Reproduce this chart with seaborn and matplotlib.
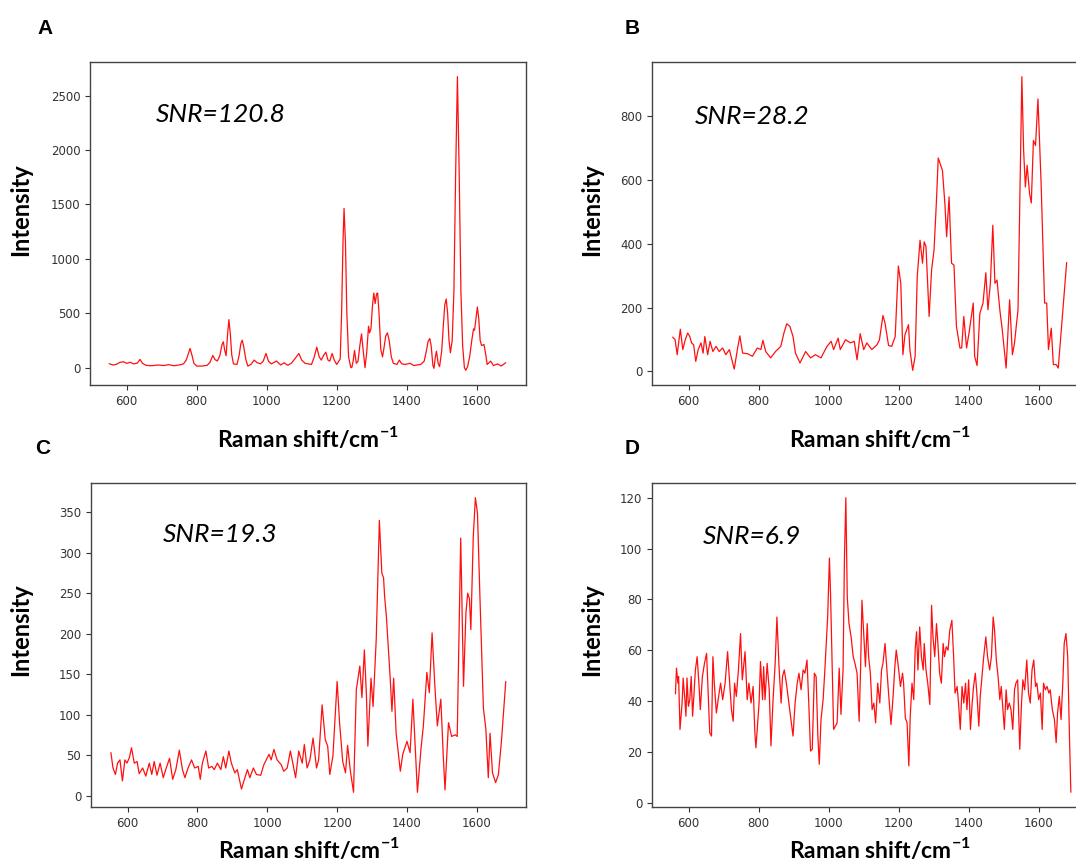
import matplotlib
matplotlib.use("Agg")
import matplotlib.pyplot as plt
import pandas as pd
import seaborn as sns

# spectrum A (SNR=120.8)
A_shift = [550, 560, 570, 580, 590, 600, 610, 620, 630, 638, 645, 655, 670, 690, 705, 720, 735, 750, 762, 770,
           776, 781, 786, 792, 800, 815, 830, 838, 846, 852, 859, 866, 872, 876, 880, 884, 888, 892, 896, 900,
           905, 915, 921, 926, 930, 934, 940, 946, 955, 964, 972, 982, 990, 998, 1005, 1013, 1028, 1040, 1050, 1060,
           1070, 1080, 1092, 1100, 1110, 1128, 1136, 1143, 1150, 1156, 1162, 1169, 1175, 1180, 1187, 1193, 1200, 1210, 1214, 1218,
           1221, 1225, 1229, 1234, 1240, 1243, 1247, 1251, 1256, 1261, 1266, 1271, 1276, 1281, 1286, 1291, 1294, 1298, 1302, 1306,
           1310, 1314, 1317, 1321, 1326, 1331, 1336, 1340, 1345, 1350, 1356, 1362, 1372, 1379, 1386, 1395, 1410, 1420, 1440, 1450,
           1456, 1461, 1466, 1470, 1475, 1478, 1482, 1485, 1490, 1494, 1500, 1505, 1509, 1513, 1517, 1521, 1525, 1530, 1535, 1540,
           1545, 1550, 1555, 1560, 1565, 1569, 1574, 1580, 1586, 1591, 1594, 1598, 1602, 1606, 1610, 1614, 1621, 1626, 1630, 1640,
           1648, 1660, 1670, 1683]
A_int = [37, 25, 30, 48, 55, 40, 50, 35, 42, 76, 40, 22, 18, 25, 20, 28, 18, 25, 35, 70,
         130, 177, 120, 40, 15, 15, 22, 50, 113, 75, 62, 110, 210, 238, 160, 110, 300, 442, 310, 120,
         35, 30, 110, 220, 253, 200, 80, 15, 30, 70, 48, 35, 60, 131, 60, 35, 61, 25, 45, 22,
         40, 80, 131, 70, 40, 30, 100, 189, 100, 70, 110, 143, 70, 60, 131, 70, 30, 80, 500, 1150,
         1464, 1150, 500, 100, 5, 0, 60, 159, 40, 60, 200, 311, 150, 0, 150, 381, 320, 360, 560, 686,
         590, 680, 686, 500, 168, 100, 200, 290, 320, 250, 100, 40, 30, 70, 35, 30, 40, 20, 30, 60,
         150, 240, 268, 200, 20, -6, 100, 152, 40, 10, 150, 400, 580, 631, 500, 250, 137, 250, 700, 1800,
         2674, 1800, 700, 200, 0, -24, 10, 100, 250, 357, 345, 450, 558, 450, 250, 204, 213, 120, 30, 60,
         20, 35, 15, 46]

# spectrum B (SNR=28.2)
B_shift = [554, 561, 567, 571, 576, 583, 590, 597, 603, 608, 614, 620, 627, 635, 641, 646, 654, 661, 669, 678,
           687, 697, 706, 716, 730, 739, 746, 754, 768, 782, 796, 806, 812, 820, 834, 848, 863, 872, 880, 889,
           898, 905, 918, 934, 948, 962, 978, 995, 1007, 1014, 1027, 1033, 1048, 1062, 1073, 1081, 1090, 1100, 1109, 1123,
           1138, 1145, 1155, 1161, 1171, 1180, 1190, 1199, 1206, 1212, 1218, 1228, 1232, 1240, 1247, 1253, 1261, 1268, 1273, 1278,
           1287, 1294, 1301, 1308, 1313, 1320, 1325, 1332, 1337, 1344, 1351, 1358, 1365, 1375, 1380, 1386, 1394, 1401, 1413, 1417,
           1424, 1432, 1441, 1449, 1455, 1462, 1469, 1475, 1481, 1489, 1496, 1507, 1517, 1525, 1531, 1541, 1552, 1557, 1562, 1567,
           1574, 1579, 1585, 1591, 1598, 1607, 1617, 1623, 1628, 1636, 1642, 1650, 1656, 1664, 1680]
B_int = [107, 99, 52, 89, 132, 68, 99, 120, 109, 89, 83, 31, 68, 89, 57, 109, 52, 94, 62, 78,
         62, 73, 52, 68, 7, 68, 111, 57, 55, 47, 73, 68, 97, 62, 42, 62, 78, 120, 149, 141,
         109, 57, 26, 62, 42, 52, 42, 78, 94, 68, 104, 68, 99, 89, 94, 36, 118, 68, 89, 68,
         83, 99, 175, 151, 81, 78, 109, 330, 276, 52, 115, 146, 68, 3, 47, 297, 411, 339, 406, 391,
         172, 318, 380, 536, 669, 646, 630, 526, 422, 547, 339, 333, 141, 73, 73, 172, 73, 120, 214, 47,
         18, 182, 214, 309, 193, 276, 458, 276, 286, 193, 130, 10, 224, 52, 89, 193, 924, 693, 578, 646,
         557, 528, 724, 708, 854, 589, 214, 214, 68, 135, 21, 21, 10, 120, 341]

# spectrum C (SNR=19.3)
C_shift = [552, 558, 565, 571, 578, 585, 592, 598, 605, 611, 619, 627, 633, 643, 652, 662, 669, 676, 684, 693,
           702, 709, 720, 729, 738, 748, 757, 764, 773, 783, 792, 802, 808, 814, 824, 832, 841, 848, 857, 867,
           874, 881, 890, 897, 907, 914, 926, 933, 943, 950, 960, 969, 981, 990, 1005, 1011, 1019, 1028, 1040, 1047,
           1057, 1066, 1074, 1081, 1090, 1100, 1106, 1114, 1122, 1131, 1141, 1147, 1157, 1166, 1173, 1179, 1188, 1200, 1207, 1216,
           1224, 1230, 1238, 1247, 1255, 1265, 1271, 1278, 1284, 1288, 1297, 1303, 1312, 1321, 1328, 1333, 1336, 1341, 1344, 1352,
           1357, 1362, 1369, 1381, 1388, 1400, 1409, 1417, 1423, 1430, 1440, 1447, 1457, 1464, 1472, 1480, 1487, 1497, 1504, 1509,
           1519, 1528, 1538, 1544, 1554, 1562, 1569, 1574, 1579, 1583, 1590, 1596, 1602, 1609, 1619, 1626, 1633, 1638, 1645, 1654,
           1662, 1671, 1683]
C_int = [53, 34, 26, 40, 44, 18, 44, 40, 47, 59, 40, 42, 27, 34, 24, 40, 26, 42, 25, 40,
         22, 32, 46, 20, 32, 56, 32, 22, 34, 44, 34, 36, 20, 40, 55, 34, 36, 32, 40, 32,
         48, 34, 55, 40, 28, 32, 8, 18, 32, 22, 34, 26, 25, 38, 51, 44, 57, 44, 38, 30,
         34, 55, 38, 22, 55, 40, 63, 34, 44, 71, 34, 44, 112, 69, 61, 26, 49, 141, 90, 42,
         28, 62, 30, 4, 131, 160, 121, 180, 123, 61, 145, 110, 193, 340, 275, 269, 246, 222, 201, 145,
         104, 145, 77, 30, 51, 67, 53, 119, 65, 4, 57, 86, 152, 127, 201, 135, 86, 119, 49, 7,
         90, 73, 75, 73, 318, 135, 226, 250, 243, 205, 320, 368, 349, 246, 108, 82, 22, 77, 28, 16,
         26, 69, 141]

# spectrum D (SNR=6.9)
D_shift = [562, 565, 569, 571, 575, 581, 584, 589, 592, 595, 599, 603, 607, 611, 614, 619, 624, 629, 633, 639,
           645, 651, 656, 660, 665, 669, 673, 679, 684, 691, 697, 704, 711, 717, 722, 727, 731, 736, 742, 748,
           753, 761, 767, 772, 778, 784, 789, 792, 797, 801, 805, 811, 814, 818, 824, 830, 835, 841, 847, 852,
           858, 864, 868, 873, 879, 885, 891, 898, 904, 910, 915, 921, 927, 932, 938, 943, 948, 953, 959, 964,
           969, 973, 978, 984, 989, 993, 997, 1002, 1005, 1010, 1014, 1019, 1024, 1030, 1035, 1041, 1045, 1049, 1053, 1058,
           1064, 1070, 1075, 1081, 1087, 1091, 1095, 1100, 1105, 1110, 1114, 1119, 1124, 1129, 1134, 1140, 1146, 1151, 1155, 1161,
           1167, 1171, 1178, 1184, 1189, 1193, 1199, 1205, 1211, 1214, 1219, 1224, 1229, 1233, 1238, 1243, 1247, 1251, 1255, 1260,
           1265, 1270, 1273, 1278, 1283, 1289, 1294, 1298, 1303, 1308, 1312, 1317, 1322, 1327, 1331, 1336, 1341, 1346, 1352, 1357,
           1361, 1367, 1371, 1376, 1381, 1386, 1391, 1395, 1400, 1405, 1410, 1414, 1419, 1424, 1429, 1433, 1438, 1443, 1449, 1454,
           1460, 1465, 1470, 1474, 1479, 1484, 1489, 1493, 1498, 1502, 1507, 1511, 1516, 1521, 1526, 1531, 1535, 1540, 1546, 1551,
           1555, 1560, 1566, 1571, 1576, 1581, 1586, 1591, 1595, 1600, 1605, 1610, 1614, 1619, 1624, 1629, 1633, 1639, 1645, 1650,
           1654, 1659, 1664, 1669, 1673, 1678, 1683, 1688, 1692]
D_int = [42.9, 53.0, 47.1, 49.7, 28.9, 39.3, 49.1, 40.6, 34.1, 49.1, 38.0, 40.6, 49.7, 34.1, 40.6, 52.3, 57.5, 47.1, 36.7, 49.7,
         54.9, 58.8, 41.9, 27.6, 26.3, 57.5, 47.1, 35.4, 40.6, 47.1, 40.6, 47.1, 59.5, 47.1, 36.7, 32.1, 47.1, 41.9, 52.3, 66.6,
         48.4, 59.5, 40.6, 47.1, 39.3, 45.8, 27.6, 21.7, 31.5, 39.3, 55.6, 40.6, 53.6, 40.6, 54.9, 44.5, 22.4, 40.6, 54.9, 73.1,
         53.6, 39.3, 49.7, 52.3, 47.1, 40.6, 34.1, 26.3, 39.3, 47.1, 51.0, 44.5, 52.3, 51.0, 56.2, 39.3, 20.4, 21.1, 51.0, 49.7,
         26.3, 15.2, 32.8, 40.6, 52.3, 62.7, 73.1, 96.3, 83.6, 52.3, 28.9, 30.2, 31.5, 53.0, 34.8, 52.3, 96.6, 120.0, 81.0, 70.5,
         65.3, 57.5, 54.9, 51.0, 32.1, 52.3, 79.7, 66.6, 53.6, 70.5, 57.5, 51.0, 36.7, 39.3, 31.5, 47.1, 39.3, 52.3, 54.9, 62.7,
         51.0, 43.2, 30.8, 41.9, 53.6, 60.1, 53.6, 45.8, 51.0, 47.1, 33.4, 31.5, 14.6, 34.1, 47.1, 40.6, 60.1, 67.3, 52.3, 69.2,
         57.5, 52.3, 62.7, 52.3, 47.1, 38.7, 77.7, 65.3, 57.5, 70.5, 62.7, 51.0, 47.1, 62.7, 57.5, 61.4, 60.1, 67.9, 71.8, 57.5,
         43.2, 45.8, 39.3, 28.9, 45.8, 39.3, 47.1, 36.7, 48.4, 28.9, 39.3, 45.8, 51.0, 41.9, 30.2, 41.9, 49.7, 57.5, 65.3, 57.5,
         52.3, 57.5, 73.1, 67.9, 56.2, 49.7, 40.6, 45.8, 36.7, 28.9, 44.5, 36.7, 39.3, 36.7, 28.9, 44.5, 47.1, 48.4, 21.1, 39.3,
         48.4, 44.5, 56.2, 43.2, 39.3, 52.3, 56.2, 45.8, 47.1, 40.6, 43.2, 28.9, 47.1, 44.5, 45.8, 43.2, 44.5, 36.7, 32.8, 23.7,
         35.4, 41.9, 32.8, 47.1, 62.7, 66.6, 57.5, 26.3, 4.2]

panel_letters = ["A", "B", "C", "D"]
snr_labels = ["SNR=120.8", "SNR=28.2", "SNR=19.3", "SNR=6.9"]

sns.set_style("ticks")
plt.rcParams["font.family"] = ["DejaVu Sans"]
plt.rcParams["mathtext.fontset"] = "custom"
plt.rcParams["mathtext.rm"] = "Lato"
plt.rcParams["mathtext.bf"] = "Lato:bold"

fig = plt.figure(figsize=(10.76, 8.65), dpi=100)

# axes boxes in pixels: left, top, right, bottom
boxes = [(90, 62, 526, 385), (652, 62, 1088, 385), (91, 483, 526, 807), (652, 483, 1088, 807)]
letter_pos = [(45, 28), (632, 28), (43, 449), (632, 449)]
snr_pos = [(156, 115), (695, 117), (163, 535), (703, 536)]
xlabel_top = [425, 425, 836, 836]
W, H = 1076, 865

spectra = [(A_shift, A_int), (B_shift, B_int), (C_shift, C_int), (D_shift, D_int)]

for i, (xs, ys) in enumerate(spectra):
    l, t, r, b = boxes[i]
    ax = fig.add_axes([l / W, 1 - b / H, (r - l) / W, (b - t) / H])
    df = pd.DataFrame({"shift": xs, "intensity": ys})
    sns.lineplot(data=df, x="shift", y="intensity", ax=ax, color="#ff1010",
                 linewidth=0.9, estimator=None, sort=False)
    ax.set_xlim(495, 1741)
    ax.set_xticks([600, 800, 1000, 1200, 1400, 1600])
    ax.tick_params(labelsize=8.5, labelcolor="#333333", color="#333333", length=3.5, width=0.8)
    for s in ax.spines.values():
        s.set_color("#444444")
        s.set_linewidth(1.0)
    ax.set_xlabel(r"Raman shift/cm$^{\mathbf{-1}}$", fontsize=16.5, fontweight="bold",
                  family="Lato", color="black")
    ax.set_ylabel("Intensity", fontsize=17, fontweight="bold", family="Lato", color="black")
    lx = ((l + r) / 2 + (10 if i % 2 else 0) - l) / (r - l)
    ax.xaxis.set_label_coords(lx, (b - xlabel_top[i]) / (b - t))
    ylx = 32 if i % 2 == 0 else 603
    ax.yaxis.set_label_coords((ylx - l) / (r - l), (b - (210 if i < 2 else 630)) / (b - t))
    sx, sy = snr_pos[i]
    fig.text(sx / W, 1 - sy / H, snr_labels[i], fontsize=19, style="italic",
             family="Lato", va="center", ha="left", color="black")
    px, py = letter_pos[i]
    fig.text(px / W, 1 - py / H, panel_letters[i], fontsize=15, fontweight="bold",
             family="Liberation Sans", va="center", ha="center", color="black")

fig.savefig("out.png", dpi=100)
